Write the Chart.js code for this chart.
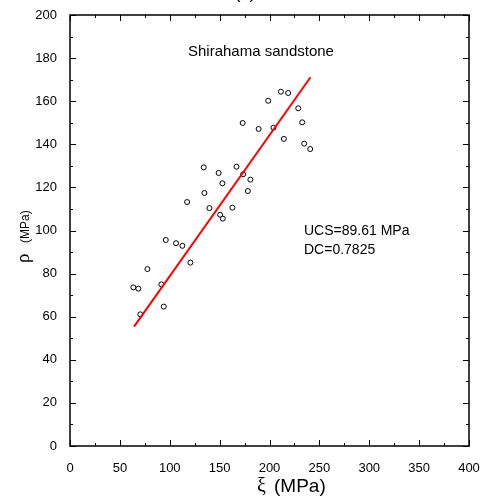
<!DOCTYPE html>
<html>
<head>
<meta charset="utf-8">
<script src="https://cdn.jsdelivr.net/npm/chart.js@4"></script>
<style>
  html, body { margin: 0; padding: 0; background: #fff; }
  #wrap { width: 490px; height: 501px; }
</style>
</head>
<body>
<div id="wrap"><canvas id="myChart" width="490" height="501"></canvas></div>
<script>
// measured points (xi, rho) in MPa
const xiVals = [63.5, 68.5, 70.5, 77.6, 91.6, 94.0, 96.0, 106.3, 112.7, 117.4, 120.7,
  134.1, 134.7, 139.8, 149.0, 150.5, 152.8, 153.2, 162.8, 166.9, 173.6, 173.1,
  178.3, 180.8, 189.1, 198.7, 204.0, 211.4, 214.4, 218.7, 228.8, 232.8, 234.8, 240.8];
const rhoVals = [73.6, 73.0, 61.1, 82.1, 75.0, 64.7, 95.6, 94.1, 92.9, 113.2, 85.1,
  129.3, 117.4, 110.4, 126.7, 107.3, 121.9, 105.5, 110.6, 129.6, 126.1, 149.9,
  118.3, 123.6, 147.1, 160.2, 147.7, 164.4, 142.5, 163.8, 156.7, 150.2, 140.3, 137.8];

// fitted line end points
const fitX = [64.2, 241.1];
const fitY = [55.4, 171.1];

const xTicks = [0, 50, 100, 150, 200, 250, 300, 350, 400];
const yTicks = [0, 20, 40, 60, 80, 100, 120, 140, 160, 180, 200];

const labelText = 'Shirahama sandstone';
const statLines = ['UCS=89.61 MPa', 'DC=0.7825'];

const FONT = '"Liberation Sans", Arial, sans-serif';

let points = [];
for (let i = 0; i < xiVals.length; i++) {
  points.push({x: xiVals[i], y: rhoVals[i]});
}
let fitLine = [];
for (let i = 0; i < fitX.length; i++) {
  fitLine.push({x: fitX[i], y: fitY[i]});
}

// frame, inner ticks, titles and text labels
const decorate = {
  id: 'decorate',
  afterDraw(chart) {
    const ctx = chart.ctx;
    const a = chart.chartArea;
    const xs = chart.scales.x;
    const ys = chart.scales.y;
    ctx.save();
    ctx.strokeStyle = '#000';
    ctx.lineWidth = 1.5;
    ctx.strokeRect(a.left, a.top, a.right - a.left, a.bottom - a.top);

    ctx.lineWidth = 1;
    ctx.beginPath();
    for (let v = 0; v <= 400; v += 25) {
      const px = Math.round(xs.getPixelForValue(v)) + 0.5;
      const len = v % 50 === 0 ? 6 : 3;
      ctx.moveTo(px, a.bottom); ctx.lineTo(px, a.bottom - len);
      ctx.moveTo(px, a.top); ctx.lineTo(px, a.top + len);
    }
    for (let v = 0; v <= 200; v += 10) {
      const py = Math.round(ys.getPixelForValue(v)) + 0.5;
      const len = v % 20 === 0 ? 6 : 3;
      ctx.moveTo(a.left, py); ctx.lineTo(a.left + len, py);
      ctx.moveTo(a.right, py); ctx.lineTo(a.right - len, py);
    }
    ctx.stroke();

    ctx.fillStyle = '#000';
    ctx.textBaseline = 'alphabetic';
    ctx.textAlign = 'left';
    ctx.font = '15px ' + FONT;
    ctx.fillText(labelText, 188, 56);
    ctx.font = '14px ' + FONT;
    ctx.fillText(statLines[0], 304, 235);
    ctx.fillText(statLines[1], 304, 254);

    // panel letter, mostly cut off at top
    ctx.font = '18px ' + FONT;
    ctx.textAlign = 'center';
    ctx.fillText('(c)', 245, -2);

    // x title
    ctx.textAlign = 'left';
    ctx.font = '20px "Liberation Serif", serif';
    ctx.fillText('ξ', 257, 492);
    ctx.font = '19px ' + FONT;
    ctx.fillText('(MPa)', 274, 492);

    // y title
    ctx.translate(29, 263);
    ctx.rotate(-Math.PI / 2);
    ctx.font = '19px "Liberation Serif", serif';
    ctx.fillText('ρ', 0, 0);
    ctx.font = '12px ' + FONT;
    ctx.fillText('(MPa)', 20, 0);
    ctx.restore();
  }
};

let ctx = document.getElementById('myChart').getContext('2d');
let myChart = new Chart(ctx, {
  data: {
    datasets: [{
      type: 'scatter',
      label: 'measured',
      data: points,
      pointRadius: 2.5,
      pointBorderWidth: 1,
      pointBorderColor: '#000',
      pointBackgroundColor: '#fff',
      order: 2
    }, {
      type: 'line',
      label: 'fit',
      data: fitLine,
      borderColor: '#ff0000',
      borderWidth: 2,
      pointRadius: 0,
      fill: false,
      order: 1
    }]
  },
  options: {
    responsive: false,
    animation: false,
    layout: { padding: { left: 0, right: 21, top: 15, bottom: 0 } },
    plugins: {
      legend: { display: false },
      tooltip: { enabled: false }
    },
    scales: {
      x: {
        type: 'linear',
        min: 0,
        max: 400,
        afterFit: function(scale) { scale.height = 55; },
        afterBuildTicks: function(scale) {
          scale.ticks = xTicks.map(v => ({value: v}));
        },
        grid: { display: false },
        border: { display: false },
        ticks: {
          color: '#000',
          padding: 7,
          maxRotation: 0,
          font: { family: FONT, size: 13 }
        }
      },
      y: {
        type: 'linear',
        min: 0,
        max: 200,
        afterFit: function(scale) { scale.width = 70; },
        afterBuildTicks: function(scale) {
          scale.ticks = yTicks.map(v => ({value: v}));
        },
        grid: { display: false },
        border: { display: false },
        ticks: {
          color: '#000',
          padding: 5,
          font: { family: FONT, size: 13 }
        }
      }
    }
  },
  plugins: [decorate]
});
</script>
</body>
</html>
